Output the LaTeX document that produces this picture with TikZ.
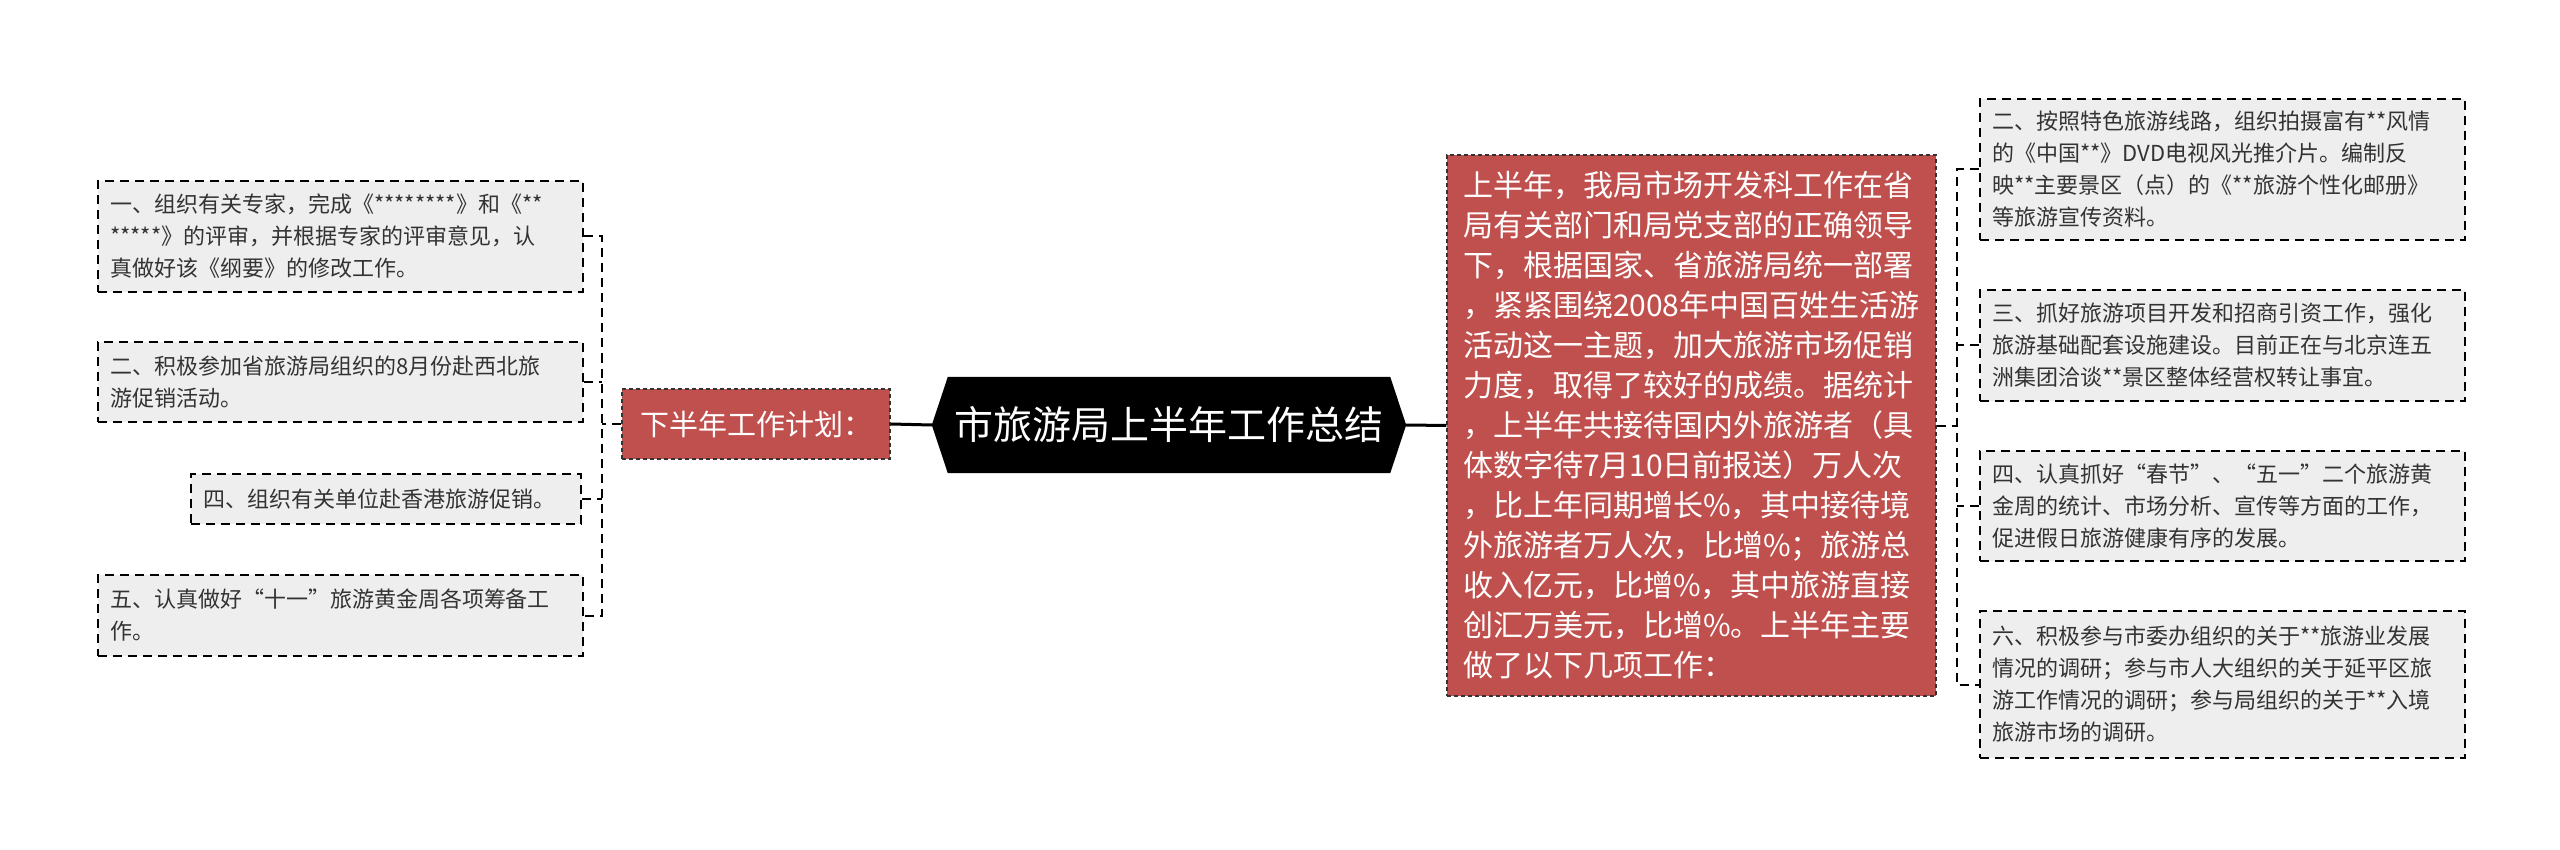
\documentclass[tikz,border=0pt]{standalone}
\usepackage{fontspec}
\setmainfont{Noto Sans CJK SC}
\newfontfamily\fwfont[RawFeature=+fwid]{Noto Sans CJK SC}
\newcommand\fwq[1]{{\fwfont #1}}
\usetikzlibrary{backgrounds}
\definecolor{boxred}{HTML}{C0504D}
\definecolor{boxgray}{HTML}{EEEEEE}
\definecolor{txtgray}{HTML}{333333}
\begin{document}
\begin{tikzpicture}[x=1pt,y=-1pt,
  leaf/.style={draw=black, fill=boxgray, line width=2pt, dash pattern=on 9pt off 6pt,
    anchor=north west, inner xsep=12pt, inner ysep=0pt, align=left, text=txtgray,
    text width=461pt, font=\fontsize{22}{32}\selectfont},
  redbox/.style={draw=black!80, fill=boxred, line width=1.2pt, dash pattern=on 4pt off 3pt,
    text=white, align=left, inner ysep=0pt},
  conn/.style={draw=black, line width=2pt, dash pattern=on 9pt off 6pt},
  mainline/.style={draw=black, line width=3pt},
]
\useasboundingbox (0,0) rectangle (2560,850);

% root
\node[text=white, font=\fontsize{39}{39}\selectfont, minimum width=474pt, minimum height=96pt, inner sep=0pt] (root) at (1169,425) {市旅游局上半年工作总结};
\begin{scope}[on background layer]
\fill[white] (0,0) rectangle (2560,850);
\fill[black] (root.west) -- ([xshift=16pt]root.north west) -- ([xshift=-16pt]root.north east) -- (root.east) -- ([xshift=-16pt]root.south east) -- ([xshift=16pt]root.south west) -- cycle;
\end{scope}

% left branch
\node[redbox, minimum width=268pt, minimum height=70pt, inner xsep=12pt, font=\fontsize{29}{34}\selectfont] (plan) at (756,424) {下半年工作计划：};

\node[leaf, minimum height=111pt] (c1) at (97,180) {一、组织有关专家，完成《********》和《**\\******》的评审，并根据专家的评审意见，认\\真做好该《纲要》的修改工作。};
\node[leaf, minimum height=80pt] (c2) at (97,341) {二、积极参加省旅游局组织的8月份赴西北旅\\游促销活动。};
\node[leaf, minimum height=50pt, text width=366pt] (c4) at (190,473) {四、组织有关单位赴香港旅游促销。};
\node[leaf, minimum height=81pt] (c5) at (97,574) {五、认真做好\fwq{“}十一\fwq{”}旅游黄金周各项筹备工\\作。};

% right branch
\node[redbox, minimum width=489pt, minimum height=541pt, inner xsep=16pt, text width=457pt, font=\fontsize{30}{40}\selectfont] (big) at (1691.5,425.5) {上半年，我局市场开发科工作在省\\局有关部门和局党支部的正确领导\\下，根据国家、省旅游局统一部署\\，紧紧围绕2008年中国百姓生活游\\活动这一主题，加大旅游市场促销\\力度，取得了较好的成绩。据统计\\，上半年共接待国内外旅游者（具\\体数字待7月10日前报送）万人次\\，比上年同期增长\%，其中接待境\\外旅游者万人次，比增\%；旅游总\\收入亿元，比增\%，其中旅游直接\\创汇万美元，比增\%。上半年主要\\做了以下几项工作：};

\node[leaf, minimum height=141pt] (r1) at (1979,98) {二、按照特色旅游线路，组织拍摄富有**风情\\的《中国**》DVD电视风光推介片。编制反\\映**主要景区（点）的《**旅游个性化邮册》\\等旅游宣传资料。};
\node[leaf, minimum height=111pt] (r2) at (1979,289) {三、抓好旅游项目开发和招商引资工作，强化\\旅游基础配套设施建设。目前正在与北京连五\\洲集团洽谈**景区整体经营权转让事宜。};
\node[leaf, minimum height=110pt] (r3) at (1979,450) {四、认真抓好\fwq{“}春节\fwq{”}、\fwq{“}五一\fwq{”}二个旅游黄\\金周的统计、市场分析、宣传等方面的工作，\\促进假日旅游健康有序的发展。};
\node[leaf, minimum height=147pt] (r4) at (1979,610) {六、积极参与市委办组织的关于**旅游业发展\\情况的调研；参与市人大组织的关于延平区旅\\游工作情况的调研；参与局组织的关于**入境\\旅游市场的调研。};

% main connectors
\draw[mainline] (plan.east) -- (root.west);
\draw[mainline] (root.east) -- (big.west);

% left connectors
\coordinate (jl) at (602,424);
\draw[conn] (c1.east) -- (c1.east -| jl) -- (c5.east -| jl) -- (c5.east);
\draw[conn] (c2.east) -- (c2.east -| jl);
\draw[conn] (c4.east) -- (c4.east -| jl);
\draw[conn] (plan.west) -- (plan.west -| jl);

% right connectors
\coordinate (jr) at (1957,425);
\draw[conn] (r1.west) -- (r1.west -| jr) -- (r4.west -| jr) -- (r4.west);
\draw[conn] (r2.west) -- (r2.west -| jr);
\draw[conn] (r3.west) -- (r3.west -| jr);
\draw[conn] (big.east) -- (big.east -| jr);
\end{tikzpicture}
\end{document}
